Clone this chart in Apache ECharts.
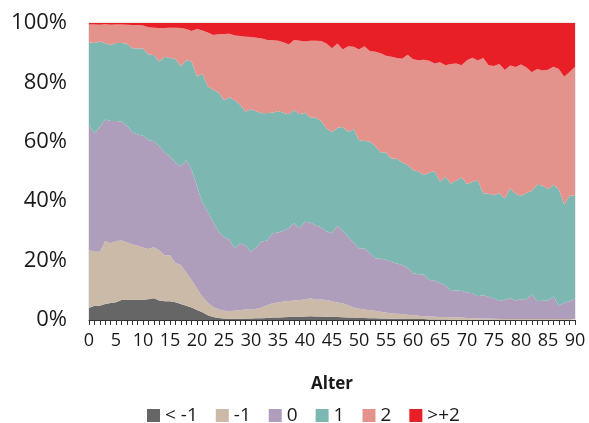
<!DOCTYPE html>
<html>
<head>
<meta charset="utf-8">
<script src="https://cdn.jsdelivr.net/npm/echarts@6/dist/echarts.min.js"></script>
<style>
  html, body { margin:0; padding:0; background:#fff; }
  #chart { width:589px; height:423px; }
</style>
</head>
<body>
<div id="chart"></div>
<script>
// --- categories: age 0..90 ---
const ages = ['0','1','2','3','4','5','6','7','8','9','10','11','12','13','14','15','16','17','18','19','20',
  '21','22','23','24','25','26','27','28','29','30','31','32','33','34','35','36','37','38','39','40',
  '41','42','43','44','45','46','47','48','49','50','51','52','53','54','55','56','57','58','59','60',
  '61','62','63','64','65','66','67','68','69','70','71','72','73','74','75','76','77','78','79','80',
  '81','82','83','84','85','86','87','88','89','90']

const names = ['< -1', '-1', '0', '1', '2', '>+2']
const colors = ['#666666', '#cbbaa8', '#ae9dbb', '#7db7b2', '#e3928c', '#e81f27']

// --- share (%) per age, one array per group ---
const sMinus2 = [4.0,4.8,4.8,5.4,5.7,6.0,6.7,6.8,6.8,6.8,6.8,7.0,7.3,6.6,6.3,6.3,6.0,5.4,4.8,4.2,3.4,
  2.6,1.6,1.0,0.7,0.5,0.4,0.4,0.4,0.5,0.5,0.6,0.6,0.7,0.8,0.8,0.9,1.0,1.1,1.1,1.2,
  1.3,1.2,1.2,1.1,1.0,1.0,0.9,0.8,0.8,0.7,0.7,0.6,0.6,0.5,0.5,0.4,0.4,0.4,0.3,0.3,
  0.3,0.3,0.2,0.2,0.2,0.2,0.1,0.1,0.1,0.1,0.1,0.1,0.1,0.1,0.1,0,0,0,0,0,
  0,0,0,0,0,0,0,0,0,0]
const sMinus1 = [19.6,18.2,18.2,21.2,20.1,20.6,20.1,19.4,18.7,18.2,17.6,16.9,17.2,16.9,15.4,15.5,13.2,13.1,11.2,9.3,7.1,
  5.2,4.2,3.4,2.9,2.6,2.6,2.7,3.0,3.0,3.1,3.2,3.6,4.3,4.8,5.1,5.3,5.4,5.5,5.6,5.7,
  6.0,5.6,5.7,5.6,5.3,4.9,4.7,4.2,3.4,3.1,2.8,2.7,2.5,2.3,2.0,1.8,1.7,1.6,1.5,1.3,
  1.1,1.0,1.0,0.9,0.8,0.8,0.8,0.8,0.7,0.6,0.5,0.5,0.4,0.4,0.3,0.3,0.3,0.3,0.3,0.3,
  0.3,0.3,0.3,0.3,0.3,0.3,0.3,0.3,0.3,0.3]
const sZero = [42.1,39.8,42.0,40.9,41.2,40.4,40.0,39.3,37.8,37.5,37.6,36.7,35.7,35.0,34.8,33.2,33.8,33.1,37.9,37.0,34.5,
  31.7,30.7,28.6,26.1,24.9,24.0,21.0,22.4,21.5,19.4,20.7,22.2,21.8,23.6,23.6,23.8,24.6,26.0,24.2,26.2,
  25.5,25.0,24.3,23.1,22.9,25.8,24.4,23.0,21.8,20.3,20.7,19.2,17.7,17.8,17.8,17.3,16.9,16.5,15.7,14.1,
  14.0,14.0,12.3,12.2,11.5,10.6,8.9,9.1,9.0,8.6,8.4,7.4,7.8,7.3,6.9,6.1,6.5,7.0,6.3,6.7,
  6.7,8.3,6.1,6.2,6.2,7.6,4.5,5.5,6.0,7.0]
const sPlus1 = [27.8,30.5,28.8,25.7,25.6,26.3,26.5,27.5,28.2,28.9,29.4,28.8,29.0,28.5,32.1,33.2,35.0,33.8,33.6,36.5,37.0,
  43.5,42.1,44.5,46.9,46.0,48.0,49.9,46.7,45.2,48.0,45.8,43.2,42.9,40.6,40.9,39.8,38.3,38.1,38.4,36.7,
  35.4,36.3,35.8,34.7,34.0,33.0,35.0,35.3,38.3,36.5,36.1,37.6,37.7,35.9,36.1,34.9,35.3,34.5,34.7,34.8,
  34.6,33.5,36.1,36.9,34.1,36.6,36.2,37.0,38.2,36.5,37.5,39.1,34.4,34.7,34.8,36.3,34.1,37.0,35.9,34.8,
  35.8,34.9,39.1,38.8,37.5,37.6,39.2,33.1,35.5,34.7]
const sPlus2 = [6.0,6.2,5.6,6.4,6.8,6.2,6.2,6.4,7.8,7.9,7.8,9.2,9.2,11.3,9.7,10.2,10.4,12.9,10.5,10.3,16.0,
  14.5,18.2,18.5,19.6,22.3,21.4,21.8,23.1,25.2,24.3,24.7,25.2,24.6,24.4,23.6,23.7,23.5,23.6,24.7,24.0,
  25.8,25.9,26.9,28.5,28.3,28.4,26.1,28.9,27.7,30.5,31.9,30.5,31.8,33.3,32.6,34.2,33.9,35.0,37.1,37.3,
  37.5,38.8,37.7,36.2,40.2,37.6,40.2,39.4,37.8,41.7,41.8,40.3,45.5,43.3,43.4,43.5,43.3,41.4,42.7,44.2,
  42.2,39.9,39.0,38.7,40.3,39.8,40.5,43.0,41.7,43.3]
const sOver2 = [0.5,0.5,0.6,0.4,0.6,0.5,0.5,0.6,0.7,0.7,0.8,1.4,1.6,1.7,1.7,1.6,1.6,1.7,2.0,2.7,2.0,
  2.5,3.2,4.0,3.8,3.7,3.6,4.2,4.4,4.6,4.7,5.0,5.2,5.7,5.8,6.0,6.5,7.2,5.7,6.0,6.2,
  6.0,6.0,6.1,7.0,8.5,6.9,8.9,7.8,8.0,8.9,7.8,9.4,9.7,10.2,11.0,11.4,11.8,12.0,10.7,12.2,
  12.5,12.4,12.7,13.6,13.2,14.2,13.8,13.6,14.2,12.5,11.7,12.6,11.8,14.2,14.5,13.8,15.8,14.3,14.8,14.0,
  15.0,16.6,15.5,16.0,15.7,14.7,15.5,18.1,16.5,14.7]

const groups = [sMinus2, sMinus1, sZero, sPlus1, sPlus2, sOver2]

const chart = echarts.init(document.getElementById('chart'))
chart.setOption({
  animation: false,
  textStyle: { fontFamily: 'Open Sans' },
  grid: {
    left: 89, right: 14, top: 23, bottom: 103,
    show: true, borderColor: '#d4d4d4', borderWidth: 1
  },
  legend: {
    data: names,
    left: 142, top: 401,
    itemWidth: 13, itemHeight: 13, itemGap: 18,
    icon: 'rect',
    textStyle: { fontSize: 19, lineHeight: 19, color: '#1a1a1a' }
  },
  xAxis: {
    type: 'category',
    data: ages,
    boundaryGap: false,
    name: 'Alter',
    nameLocation: 'middle',
    nameGap: 56,
    nameTextStyle: { fontSize: 17, fontWeight: 'bold', color: '#1a1a1a' },
    axisLine: { lineStyle: { color: '#333', width: 1 } },
    axisTick: { interval: 0, length: 5, lineStyle: { color: '#333' } },
    axisLabel: { interval: 4, fontSize: 18, color: '#1a1a1a', margin: 12 }
  },
  yAxis: {
    type: 'value',
    min: 0, max: 100, interval: 20,
    axisLine: { show: false },
    axisTick: { show: false },
    splitLine: { show: false },
    axisLabel: { fontSize: 22, color: '#1a1a1a', margin: 22, formatter: '{value}%' }
  },
  series: groups.map((d, i) => ({
    name: names[i],
    type: 'line',
    stack: 'total',
    data: d,
    symbol: 'none',
    lineStyle: { width: 0 },
    areaStyle: { color: colors[i], opacity: 1 },
    itemStyle: { color: colors[i] }
  }))
})
</script>
</body>
</html>
